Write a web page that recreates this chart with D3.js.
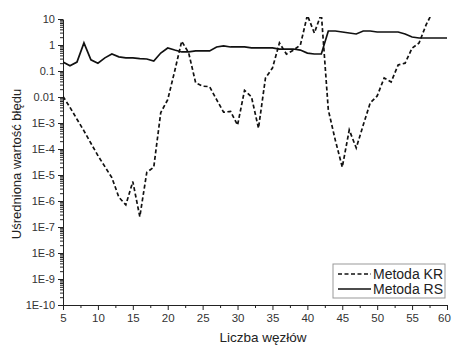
<!DOCTYPE html>
<html>
<head>
<meta charset="utf-8">
<script src="https://cdnjs.cloudflare.com/ajax/libs/d3/7.8.5/d3.min.js"></script>
<style>
    body { margin: 0; background: #fff; }
    svg { display: block; font-family: "Liberation Sans", Arial, sans-serif; }
    .tick text { fill: #333; }
</style>
</head>
<body>
<div id="chart"></div>
<script>
var nodes = [5, 6, 7, 8, 9, 10, 11, 12, 13, 14, 15, 16, 17, 18, 19, 20, 21, 22, 23, 24,
    25, 26, 27, 28, 29, 30, 31, 32, 33, 34, 35, 36, 37, 38, 39, 40, 41, 42, 43, 44,
    45, 46, 47, 48, 49, 50, 51, 52, 53, 54, 55, 56, 57, 58, 59, 60];

// Metoda KR, nodes 5..58 (above 10 gets clipped)
var errKR = [1.05e-2, 4.0e-3, 1.4e-3, 5.0e-4, 1.66e-4, 5.6e-5, 2.1e-5, 7.9e-6, 1.4e-6, 7.1e-7,
    5.6e-6, 2.5e-7, 1.26e-5, 2.0e-5, 2.5e-3, 7.9e-3, 0.1, 1.4, 0.5, 0.035,
    0.026, 0.025, 7.9e-3, 2.6e-3, 2.8e-3, 8.3e-4, 0.018, 0.01, 6.3e-4, 0.054,
    0.13, 1.2, 0.45, 0.63, 1.0, 14, 2.9, 16, 3.2e-3, 2.2e-4,
    2.0e-5, 5.4e-4, 1.1e-4, 8.3e-4, 5.9e-3, 0.011, 0.054, 0.038, 0.17, 0.2,
    0.76, 1.2, 5.9, 20];

// Metoda RS, nodes 5..60
var errRS = [0.22, 0.16, 0.22, 1.2, 0.27, 0.2, 0.32, 0.45, 0.35, 0.32,
    0.32, 0.3, 0.29, 0.24, 0.49, 0.77, 0.64, 0.54, 0.54, 0.59,
    0.59, 0.59, 0.84, 0.92, 0.84, 0.84, 0.84, 0.77, 0.77, 0.77,
    0.77, 0.7, 0.7, 0.7, 0.64, 0.49, 0.45, 0.45, 3.45, 3.45,
    3.16, 2.9, 2.65, 3.45, 3.45, 3.16, 3.16, 3.16, 3.16, 2.65,
    2.03, 1.86, 1.86, 1.86, 1.86, 1.86];

var xTicks = [5, 10, 15, 20, 25, 30, 35, 40, 45, 50, 55, 60];
var yTicks = [10, 1, 0.1, 0.01, 1e-3, 1e-4, 1e-5, 1e-6, 1e-7, 1e-8, 1e-9, 1e-10];
var yTickLabels = ['10', '1', '0.1', '0.01', '1E-3', '1E-4', '1E-5', '1E-6', '1E-7', '1E-8', '1E-9', '1E-10'];
var seriesNames = ['Metoda KR', 'Metoda RS'];

(function() {
    'use strict';

    var width = 452, height = 347;
    var margin = {top: 19, right: 5, bottom: 42, left: 63};
    var w = width - margin.left - margin.right;
    var h = height - margin.top - margin.bottom;

    var svg = d3.select('#chart').append('svg')
        .attr('width', width)
        .attr('height', height);

    var g = svg.append('g')
        .attr('transform', 'translate(' + margin.left + ',' + margin.top + ')');

    var x = d3.scaleLinear().domain([5, 60]).range([0, w]);
    var y = d3.scaleLog().domain([1e-10, 10]).range([h, 0]);

    // minor ticks first so the major ones sit on top
    var minorX = [];
    xTicks.forEach(function(t) { if (t < 60) minorX.push(t + 2.5); });
    var minorY = [];
    yTicks.forEach(function(t) {
        if (t < 10) {
            for (var k = 2; k <= 9; k++) minorY.push(t * k);
        }
    });

    g.append('g')
        .attr('transform', 'translate(0,' + h + ')')
        .call(d3.axisBottom(x).tickValues(minorX).tickSize(3).tickFormat(''))
        .call(function(s) { s.select('.domain').remove(); });

    g.append('g')
        .call(d3.axisLeft(y).tickValues(minorY).tickSize(3).tickFormat(''))
        .call(function(s) { s.select('.domain').remove(); });

    var xAxis = g.append('g')
        .attr('transform', 'translate(0,' + h + ')')
        .call(d3.axisBottom(x).tickValues(xTicks).tickSize(5).tickSizeOuter(0).tickPadding(4));
    xAxis.selectAll('text').style('font-size', '11.5px');
    // last label sits at the window edge, nudge it in
    xAxis.selectAll('.tick').filter(function(d) { return d === 60; })
        .select('text').attr('dx', '-3');

    var yAxis = g.append('g')
        .call(d3.axisLeft(y).tickValues(yTicks).tickSize(5).tickSizeOuter(0).tickPadding(3)
            .tickFormat(function(d, i) { return yTickLabels[i]; }));
    yAxis.selectAll('text').style('font-size', '11px');

    svg.selectAll('.domain, .tick line').attr('stroke', '#222');

    // axis titles
    svg.append('text')
        .attr('x', 263)
        .attr('y', 342)
        .attr('text-anchor', 'middle')
        .style('font-size', '13.5px')
        .attr('fill', '#222')
        .text('Liczba węzłów');

    svg.append('text')
        .attr('transform', 'translate(21,' + (margin.top + h / 2 + 2) + ') rotate(-90)')
        .attr('text-anchor', 'middle')
        .style('font-size', '13px')
        .attr('fill', '#222')
        .text('Uśredniona wartość błędu');

    // lines, clipped to the plot area
    svg.append('clipPath')
        .attr('id', 'plot-clip')
        .append('rect')
        .attr('x', 0).attr('y', -2)
        .attr('width', w).attr('height', h + 2);

    var line = d3.line()
        .x(function(d) { return x(d.n); })
        .y(function(d) { return y(d.v); });

    var kr = errKR.map(function(v, i) { return {n: nodes[i], v: v}; });
    var rs = errRS.map(function(v, i) { return {n: nodes[i], v: v}; });

    var plot = g.append('g').attr('clip-path', 'url(#plot-clip)');

    plot.append('path')
        .datum(rs)
        .attr('fill', 'none')
        .attr('stroke', '#111')
        .attr('stroke-width', 1.7)
        .attr('d', line);

    plot.append('path')
        .datum(kr)
        .attr('fill', 'none')
        .attr('stroke', '#111')
        .attr('stroke-width', 1.7)
        .attr('stroke-dasharray', '4,2.5')
        .attr('d', line);

    // legend
    var legend = svg.append('g').attr('transform', 'translate(333,264)');
    legend.append('rect')
        .attr('width', 112)
        .attr('height', 34)
        .attr('fill', '#fff')
        .attr('stroke', '#999')
        .attr('stroke-width', 1);

    seriesNames.forEach(function(name, i) {
        var ly = 10 + i * 15;
        legend.append('line')
            .attr('x1', 5).attr('x2', 38)
            .attr('y1', ly).attr('y2', ly)
            .attr('stroke', '#111')
            .attr('stroke-width', 1.5)
            .attr('stroke-dasharray', i === 0 ? '4,2.5' : null);
        legend.append('text')
            .attr('x', 40)
            .attr('y', ly + 5)
            .style('font-size', '14px')
            .attr('fill', '#222')
            .text(name);
    });
})();
</script>
</body>
</html>
